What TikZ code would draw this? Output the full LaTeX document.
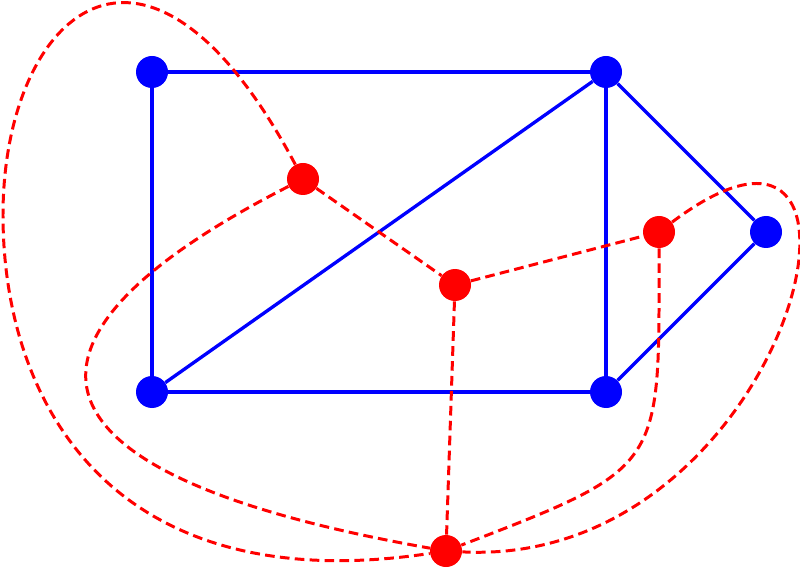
\documentclass[tikz,border=0pt]{standalone}
\usetikzlibrary{positioning}
\tikzset{
vertex/.style={circle, fill=blue, inner sep=0pt, minimum size=0.64cm}, % vertices of the plane graph
dual vertex/.style={circle, fill=red, inner sep=0pt, minimum size=0.64cm}, % one vertex for every face
primal/.style={blue, line width=1.9pt}, % edges of the graph
dual/.style={red, line width=1.7pt, dash pattern=on 5.5pt off 3pt}, % edges of the dual graph
}
\begin{document}
\begin{tikzpicture}
      \useasboundingbox (0,0) rectangle (16,11.4);
      \node[vertex] (v1) at (3.04,9.96) {};
      \node[vertex, right of=v1, node distance=9.08cm] (v2) {};
      \node[vertex, below of=v1, node distance=6.4cm] (v4) {};
      \node[vertex, below of=v2, node distance=6.4cm] (v5) {};
      \node[vertex] (v3) at (15.32,6.76) {};

      \node[dual vertex] (d1) at (6.06,7.82) {};
      \node[dual vertex] (d2) at (9.1,5.7) {};
      \node[dual vertex] (d3) at (13.18,6.76) {};
      \node[dual vertex] (d0) at (8.92,0.38) {}; % outer face
      \coordinate (w) at (0.06,7.1);

      \draw[primal]
      (v1) edge (v2)
      (v1) edge (v4)
      (v4) edge (v5)
      (v2) edge (v5)
      (v2) edge (v4)
      (v2) edge (v3)
      (v3) edge (v5)
      ;

      \draw[dual]
      (d1) edge (d2)
      (d2) edge (d3)
      (d2) edge (d0)
      (d1) edge[out=207, in=170, out distance=6.4cm, in distance=8.9cm] (d0)
      (d3) edge[out=270, in=21, out distance=4.4cm, in distance=4.4cm] (d0)
      (d3) edge[out=37, in=357, out distance=6.1cm, in distance=6.6cm] (d0)
      ;
      \draw[dual] (d1) to[out=118, in=90, out distance=6.4cm, in distance=4cm] (w)
      to[out=270, in=188.6, out distance=3.8cm, in distance=6.4cm] (d0);
    \end{tikzpicture}
\end{document}
